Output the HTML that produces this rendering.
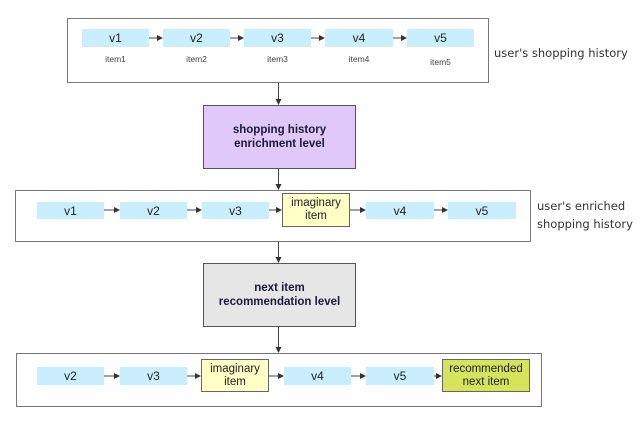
<!DOCTYPE html>
<html><head><style>
body{margin:0;width:640px;height:436px;background:#fff;position:relative;overflow:hidden;font-family:"Liberation Sans",Arial,sans-serif}
.a{position:absolute;box-sizing:border-box}
.f{border:1px solid #777;background:#fff}
.v{background:#c9efff;display:flex;align-items:center;justify-content:center;font-size:12px;color:#222}
.y{background:#ffffc6;border:1px solid #666;display:flex;align-items:center;justify-content:center;text-align:center;font-size:11.5px;line-height:13px;color:#222}
.g{background:#d5e45a;border:1px solid #666;display:flex;align-items:center;justify-content:center;text-align:center;font-size:11.5px;line-height:13px;color:#222}
.it{font-size:8.5px;color:#444;text-align:center}
.lvl{border:1px solid #555;display:flex;align-items:center;justify-content:center;text-align:center;font-weight:bold;font-size:11.5px;line-height:14px;color:#1a1a3a}
.lb{font-family:"DejaVu Sans","Liberation Sans",sans-serif;font-size:11.5px;color:#333;line-height:18px}
svg{position:absolute;left:0;top:0}
</style></head><body>
<div class="a f" style="left:67px;top:18px;width:422px;height:65px"></div>
<div class="a v" style="left:82px;top:29px;width:67px;height:18px">v1</div>
<div class="a v" style="left:163px;top:29px;width:67px;height:18px">v2</div>
<div class="a v" style="left:244px;top:29px;width:67px;height:18px">v3</div>
<div class="a v" style="left:325px;top:29px;width:68px;height:18px">v4</div>
<div class="a v" style="left:407px;top:29px;width:67px;height:18px">v5</div>
<div class="a it" style="left:82px;top:54px;width:67px">item1</div>
<div class="a it" style="left:163px;top:54px;width:67px">item2</div>
<div class="a it" style="left:244px;top:54px;width:67px">item3</div>
<div class="a it" style="left:325px;top:54px;width:68px">item4</div>
<div class="a it" style="left:407px;top:57px;width:67px">item5</div>
<div class="a lb" style="left:494px;top:44px">user's shopping history</div>

<div class="a lvl" style="left:203px;top:105px;width:153px;height:64px;background:#e0c8fb">shopping history<br>enrichment level</div>

<div class="a f" style="left:15px;top:190px;width:516px;height:52px"></div>
<div class="a v" style="left:37px;top:202px;width:67px;height:17px">v1</div>
<div class="a v" style="left:120px;top:202px;width:67px;height:17px">v2</div>
<div class="a v" style="left:202px;top:202px;width:67px;height:17px">v3</div>
<div class="a y" style="left:282px;top:193px;width:68px;height:34px">imaginary<br>item</div>
<div class="a v" style="left:366px;top:202px;width:68px;height:17px">v4</div>
<div class="a v" style="left:448px;top:202px;width:68px;height:17px">v5</div>
<div class="a lb" style="left:537px;top:197px">user's enriched<br>shopping history</div>

<div class="a lvl" style="left:203px;top:263px;width:153px;height:64px;background:#e6e6e6">next item<br>recommendation level</div>

<div class="a f" style="left:16px;top:353px;width:526px;height:54px"></div>
<div class="a v" style="left:37px;top:367px;width:67px;height:18px">v2</div>
<div class="a v" style="left:120px;top:367px;width:67px;height:18px">v3</div>
<div class="a y" style="left:201px;top:359px;width:68px;height:33px">imaginary<br>item</div>
<div class="a v" style="left:284px;top:367px;width:67px;height:18px">v4</div>
<div class="a v" style="left:366px;top:367px;width:68px;height:18px">v5</div>
<div class="a g" style="left:442px;top:359px;width:88px;height:33px">recommended<br>next item</div>

<svg width="640" height="436">
<defs><marker id="m" markerWidth="6" markerHeight="6" refX="5" refY="3" orient="auto"><path d="M0,0L6,3L0,6z" fill="#333"/></marker></defs>
<g stroke="#444" stroke-width="1" marker-end="url(#m)">
<line x1="149" y1="38" x2="162" y2="38"/>
<line x1="230" y1="38" x2="243" y2="38"/>
<line x1="311" y1="38" x2="324" y2="38"/>
<line x1="393" y1="38" x2="406" y2="38"/>
<line x1="278.5" y1="83" x2="278.5" y2="104"/>
<line x1="278.5" y1="169" x2="278.5" y2="189"/>
<line x1="104" y1="210" x2="119" y2="210"/>
<line x1="187" y1="210" x2="201" y2="210"/>
<line x1="269" y1="210" x2="281" y2="210"/>
<line x1="350" y1="210" x2="365" y2="210"/>
<line x1="434" y1="210" x2="447" y2="210"/>
<line x1="278.5" y1="242" x2="278.5" y2="262"/>
<line x1="278.5" y1="327" x2="278.5" y2="352"/>
<line x1="104" y1="376" x2="119" y2="376"/>
<line x1="187" y1="376" x2="200" y2="376"/>
<line x1="269" y1="376" x2="283" y2="376"/>
<line x1="351" y1="376" x2="365" y2="376"/>
<line x1="434" y1="376" x2="441" y2="376"/>
</g></svg>
</body></html>
